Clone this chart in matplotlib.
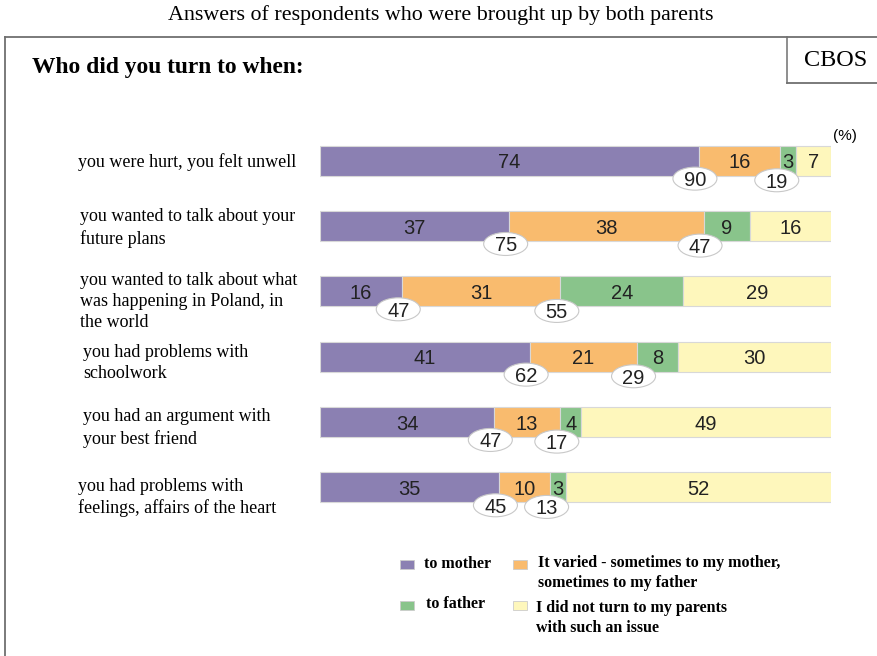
import matplotlib.pyplot as plt
import numpy as np
from matplotlib.patches import Ellipse, Rectangle
from matplotlib.transforms import blended_transform_factory

## Stacked bar chart: who respondents turned to (CBOS survey)

# data
situations = ["you were hurt, you felt unwell",
              "you wanted to talk about your\nfuture plans",
              "you wanted to talk about what\nwas happening in Poland, in\nthe world",
              "you had problems with\nschoolwork",
              "you had an argument with\nyour best friend",
              "you had problems with\nfeelings, affairs of the heart"]
to_mother = [74, 37, 16, 41, 34, 35]
varied = [16, 38, 31, 21, 13, 10]
to_father = [3, 9, 24, 8, 4, 3]
not_parents = [7, 16, 29, 30, 49, 52]

series_names = ["to mother",
                "It varied - sometimes to my mother,\nsometimes to my father",
                "to father",
                "I did not turn to my parents\nwith such an issue"]
colors = ["#8b80b2", "#f9bb6e", "#89c48b", "#fef7bc"]

# layout (pixels of a 878x656 figure)
W, H = 878, 656
serif = "Liberation Serif"
sans = "Liberation Sans"
label_x = [78, 80, 80, 83, 83, 78]
label_dy = [1, 2, 10, 6, 6, 10]   # px shift of row label below bar centre

fig = plt.figure(figsize=(W/100, H/100), dpi=100)

# background axes in pixel units for frame and texts
bg = fig.add_axes([0, 0, 1, 1])
bg.set_xlim(0, W)
bg.set_ylim(H, 0)
bg.axis("off")

frame_col = "#707070"
bg.plot([5, 5], [37, H + 5], color=frame_col, lw=1.3)
bg.plot([5, W + 5], [37, 37], color=frame_col, lw=1.3)
bg.plot([787, 787], [37, 83], color=frame_col, lw=1.1)
bg.plot([787, W + 5], [83, 83], color=frame_col, lw=1.3)

bg.text(441, 15, "Answers of respondents who were brought up by both parents",
        ha="center", va="center", family=serif, fontsize=15.8)
bg.text(32, 67, "Who did you turn to when:", ha="left", va="center",
        family=serif, fontsize=16.9, fontweight="bold")
bg.text(836, 60, "CBOS", ha="center", va="center", family=serif, fontsize=17.5)
bg.text(845, 136, "(%)", ha="center", va="center", family=sans, fontsize=11)

# bar axes
top_px, bot_px = 128, 520
ax = fig.add_axes([320/W, (H - bot_px)/H, 511.5/W, (bot_px - top_px)/H])
ax.set_xlim(0, 100)
ax.set_ylim(len(situations) - 0.5, -0.5)
ax.axis("off")

y = np.arange(len(situations))
row_px = (bot_px - top_px) / len(situations)
bar_h = 30 / row_px

series = [to_mother, varied, to_father, not_parents]
left = np.zeros(len(situations))
for vals, col, name in zip(series, colors, series_names):
    bars = ax.barh(y, vals, left=left, height=bar_h, color=col,
                   edgecolor="#d8d8d8", linewidth=0.8, label=name)
    texts = ax.bar_label(bars, labels=[str(v) for v in vals],
                         label_type="center", family=sans, fontsize=14.5,
                         color="#222222")
    for t in texts:
        t.set_verticalalignment("center_baseline")
    left = left + np.array(vals)

# ellipses with combined percentages at boundaries
mother = np.array(to_mother)
var = np.array(varied)
fath = np.array(to_father)
ell_w = 44 / 5.115
ell_h = 23 / row_px
for i in range(len(situations)):
    pts = [(mother[i] - 0.7, i + 0.275, mother[i] + var[i]),
           (mother[i] + var[i] - 0.7, i + 0.3, var[i] + fath[i])]
    for xc, yc, val in pts:
        ax.add_patch(Ellipse((xc, yc), ell_w, ell_h, facecolor="white",
                             edgecolor="#c8c8c8", lw=0.8, zorder=5))
        ax.text(xc, yc, str(val), ha="center", va="center_baseline",
                family=sans, fontsize=14.5, color="#222222", zorder=6)

# row labels
tr = blended_transform_factory(fig.transFigure, ax.transData)
for i, lab in enumerate(situations):
    ax.text(label_x[i]/W, i + label_dy[i]/row_px, lab, transform=tr,
            ha="left", va="center", family=serif, fontsize=13,
            linespacing=1.32)

# legend drawn by hand
leg = [(400, 564, 424, 564, 0), (513, 564, 538, 573, 1),
       (400, 605, 426, 604, 2), (513, 605, 536, 618, 3)]
for sx, sy, tx, ty, k in leg:
    bg.add_patch(Rectangle((sx, sy - 4.5), 14, 9, facecolor=colors[k],
                           edgecolor="#cccccc", lw=0.6))
    bg.text(tx, ty, series_names[k], ha="left", va="center", family=serif,
            fontsize=11.5, fontweight="bold", linespacing=1.32)

fig.savefig("out.png", dpi=100)
